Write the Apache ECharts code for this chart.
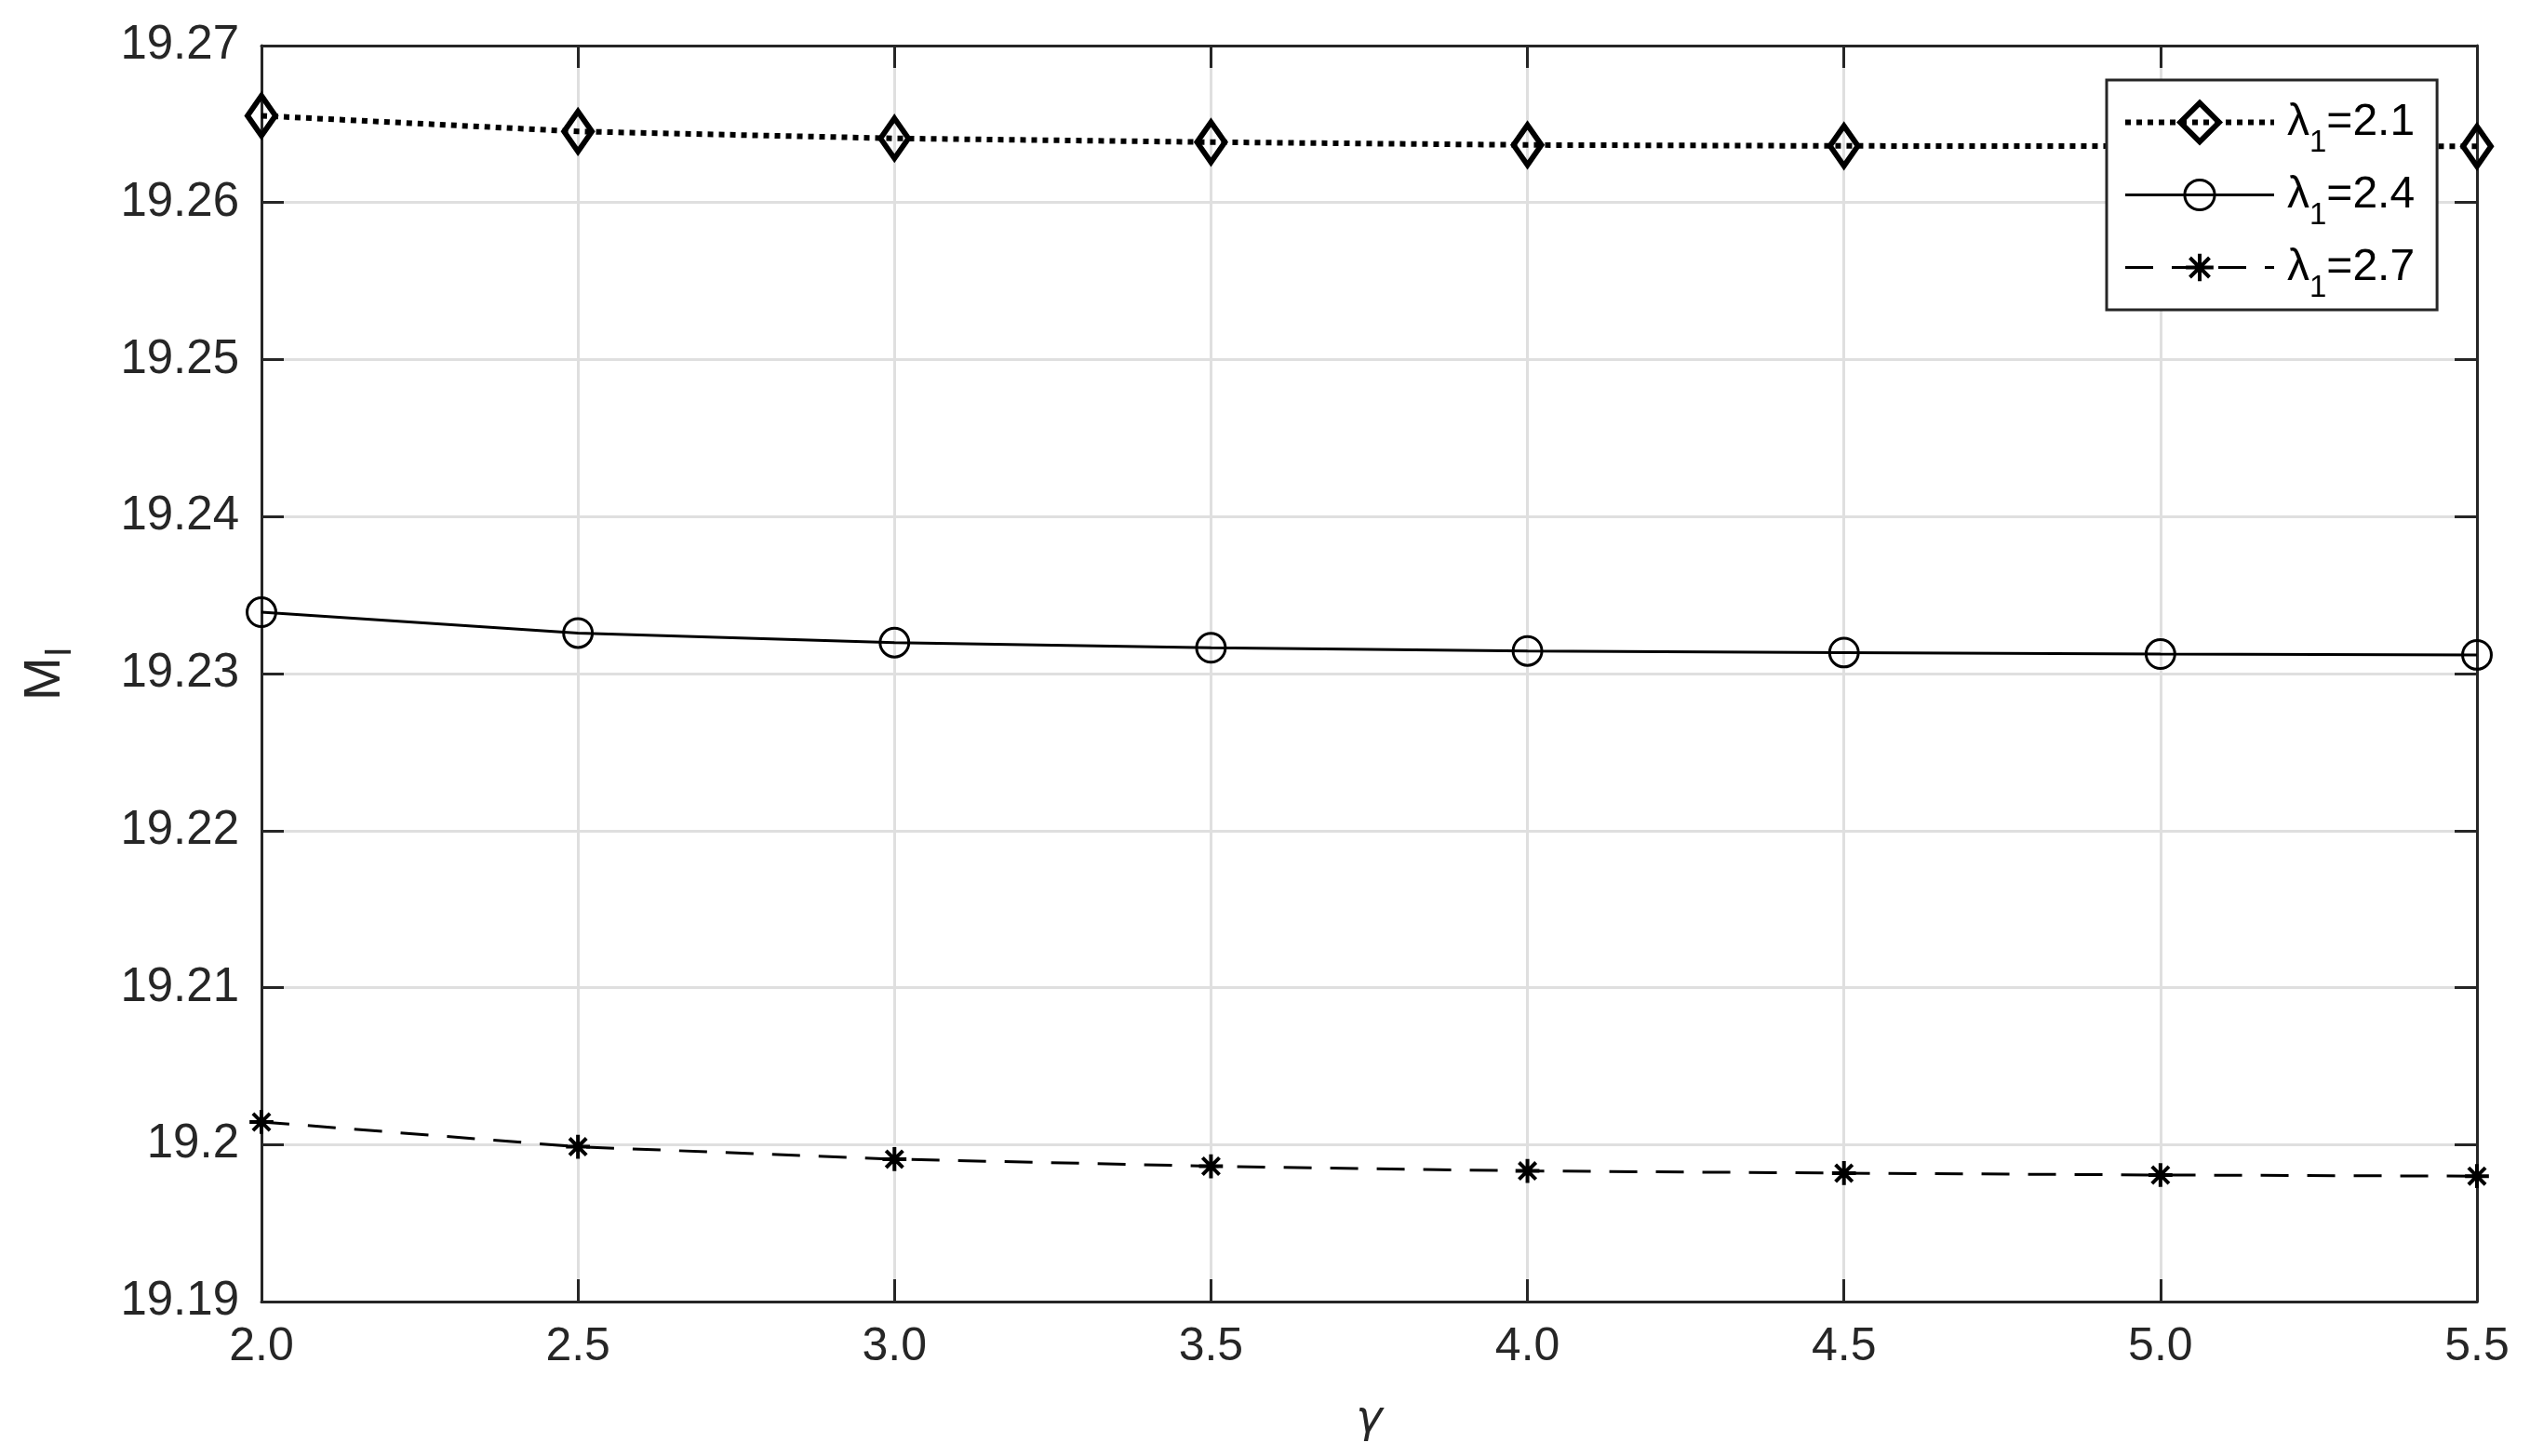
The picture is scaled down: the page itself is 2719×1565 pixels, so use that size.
<!DOCTYPE html>
<html>
<head>
<meta charset="utf-8">
<script src="https://cdn.jsdelivr.net/npm/echarts@6/dist/echarts.min.js"></script>
<style>
  html, body { margin: 0; padding: 0; background: #fff; }
  #chart { width: 2719px; height: 1565px; }
</style>
</head>
<body>
<div id="chart"></div>
<script>
// gamma values (x axis)
const gammaValues = [2.0, 2.5, 3.0, 3.5, 4.0, 4.5, 5.0, 5.5];
// M_I for each lambda_1
const lambda21 = [19.26553, 19.26453, 19.26409, 19.26385, 19.26367, 19.26361, 19.26359, 19.26358];
const lambda24 = [19.23391, 19.23258, 19.23197, 19.23164, 19.23144, 19.23134, 19.23124, 19.23119];
const lambda27 = [19.20144, 19.19986, 19.19907, 19.19862, 19.19832, 19.19818, 19.19806, 19.19799];
const seriesNames = ['λ1=2.1', 'λ1=2.4', 'λ1=2.7'];

const axisColor = '#262626';
const fontFamily = 'Liberation Sans, Arial, Helvetica, sans-serif';

// 标记形状 (extra move points only pad the bounding box)
const diamondPath = 'path://M0,-12L10,0L0,12L-10,0Z';
const circlePath = 'path://M-11,-11M11,11M-8.5,0A8.5,8.5,0,1,0,8.5,0A8.5,8.5,0,1,0,-8.5,0Z';
const starPath = 'path://M-14,-14M14,14M0,-10L0,10M-10,0L10,0M-7.07,-7.07L7.07,7.07M-7.07,7.07L7.07,-7.07';

// 线型
const styles = [
    { line: { color: '#000', width: 6, type: [6, 6], cap: 'butt' }, border: 6 },
    { line: { color: '#000', width: 3, type: 'solid' }, border: 3 },
    { line: { color: '#000', width: 3, type: [30, 20], cap: 'butt' }, border: 4 }
];

function pairs(ys) {
    return gammaValues.map((x, i) => [x, ys[i]]);
}

const chart = echarts.init(document.getElementById('chart'));

const option = {
    animation: false,
    backgroundColor: '#fff',
    grid: {
        left: 281,
        right: 57,
        top: 49,
        bottom: 166
    },
    legend: {
        orient: 'vertical',
        left: 2264,
        top: 86,
        itemWidth: 160,
        itemHeight: 52,
        itemGap: 1,
        padding: [7, 24, 7, 17],
        borderColor: axisColor,
        borderWidth: 3,
        borderRadius: 0,
        backgroundColor: '#fff',
        data: seriesNames.map((n, i) => ({
            name: n,
            lineStyle: { width: styles[i].line.width },
            itemStyle: { borderWidth: styles[i].border }
        })),
        formatter: function (name) {
            // λ1=2.1 -> λ + subscript 1 + =2.1
            return '{l|λ}{s|1}{a|' + name.slice(2) + '}';
        },
        textStyle: {
            color: '#000',
            fontFamily: fontFamily,
            padding: [0, 0, 0, 9],
            rich: {
                l: { fontSize: 48, lineHeight: 56, fontFamily: fontFamily, color: '#000' },
                a: { fontSize: 48, lineHeight: 56, fontFamily: fontFamily, color: '#000' },
                s: { fontSize: 33, lineHeight: 33, padding: [44, 0, 0, 0], fontFamily: fontFamily, color: '#000' }
            }
        }
    },
    xAxis: [
        {
            type: 'value',
            min: 2,
            max: 5.5,
            interval: 0.5,
            name: 'γ',
            nameLocation: 'middle',
            nameGap: 104,
            nameTextStyle: {
                fontSize: 48,
                fontStyle: 'italic',
                fontFamily: 'DejaVu Sans, sans-serif',
                color: axisColor
            },
            axisLine: { show: true, lineStyle: { color: axisColor, width: 3 } },
            axisTick: { show: true, inside: true, length: 24, lineStyle: { color: axisColor, width: 3 } },
            axisLabel: {
                margin: 24,
                fontSize: 50,
                fontFamily: fontFamily,
                color: axisColor,
                formatter: v => v.toFixed(1)
            },
            splitLine: { show: true, lineStyle: { color: '#dfdfdf', width: 3 } }
        },
        {
            // 上边框
            type: 'value',
            position: 'top',
            min: 2,
            max: 5.5,
            interval: 0.5,
            axisLine: { show: true, lineStyle: { color: axisColor, width: 3 } },
            axisTick: { show: true, inside: true, length: 24, lineStyle: { color: axisColor, width: 3 } },
            axisLabel: { show: false },
            splitLine: { show: false }
        }
    ],
    yAxis: [
        {
            type: 'value',
            min: 19.19,
            max: 19.27,
            interval: 0.01,
            name: '{m|M}{s|I}',
            nameLocation: 'middle',
            nameGap: 196,
            nameTextStyle: {
                color: axisColor,
                fontFamily: fontFamily,
                rich: {
                    m: { fontSize: 56, fontFamily: fontFamily, color: axisColor },
                    s: { fontSize: 40, padding: [32, 0, 0, 0], fontFamily: fontFamily, color: axisColor }
                }
            },
            axisLine: { show: true, lineStyle: { color: axisColor, width: 3 } },
            axisTick: { show: true, inside: true, length: 24, lineStyle: { color: axisColor, width: 3 } },
            axisLabel: {
                margin: 24,
                fontSize: 51,
                fontFamily: fontFamily,
                color: axisColor
            },
            splitLine: { show: true, lineStyle: { color: '#dfdfdf', width: 3 } }
        },
        {
            // 右边框
            type: 'value',
            position: 'right',
            min: 19.19,
            max: 19.27,
            interval: 0.01,
            axisLine: { show: true, lineStyle: { color: axisColor, width: 3 } },
            axisTick: { show: true, inside: true, length: 24, lineStyle: { color: axisColor, width: 3 } },
            axisLabel: { show: false },
            splitLine: { show: false }
        }
    ],
    series: [
        {
            name: seriesNames[0],
            type: 'line',
            data: pairs(lambda21),
            symbol: diamondPath,
            symbolSize: [36, 43],
            symbolKeepAspect: true,
            showAllSymbol: true,
            lineStyle: styles[0].line,
            itemStyle: { color: 'rgba(0,0,0,0)', borderColor: '#000', borderWidth: styles[0].border }
        },
        {
            name: seriesNames[1],
            type: 'line',
            data: pairs(lambda24),
            symbol: circlePath,
            symbolSize: 40,
            symbolKeepAspect: true,
            showAllSymbol: true,
            lineStyle: styles[1].line,
            itemStyle: { color: 'rgba(0,0,0,0)', borderColor: '#000', borderWidth: styles[1].border }
        },
        {
            name: seriesNames[2],
            type: 'line',
            data: pairs(lambda27),
            symbol: starPath,
            symbolSize: 36,
            symbolKeepAspect: true,
            showAllSymbol: true,
            lineStyle: styles[2].line,
            itemStyle: { color: 'rgba(0,0,0,0)', borderColor: '#000', borderWidth: styles[2].border }
        }
    ]
};

chart.setOption(option);
</script>
</body>
</html>
